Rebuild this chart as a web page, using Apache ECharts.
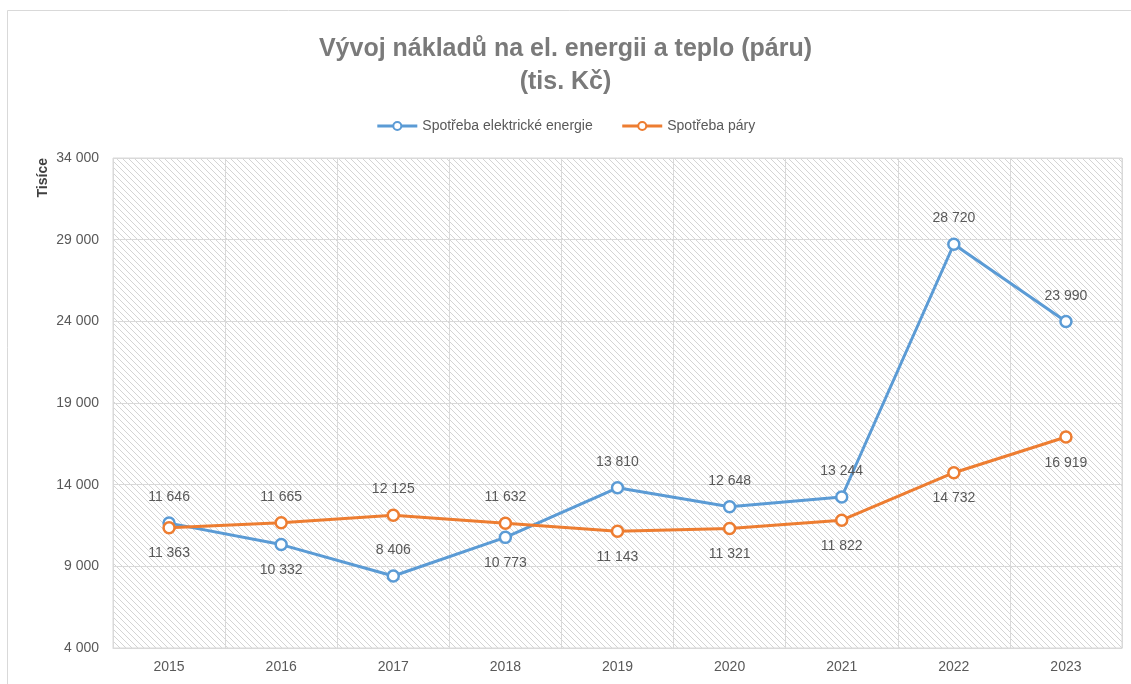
<!DOCTYPE html>
<html>
<head>
<meta charset="utf-8">
<script src="https://cdn.jsdelivr.net/npm/echarts@6/dist/echarts.min.js"></script>
<style>
  html, body { margin: 0; padding: 0; background: #fff; }
  #chart { width: 1131px; height: 684px; }
</style>
</head>
<body>
<div id="chart"></div>
<script>
// data
var years = ['2015', '2016', '2017', '2018', '2019', '2020', '2021', '2022', '2023']
var elektrina = [11646, 10332, 8406, 10773, 13810, 12648, 13244, 28720, 23990]
var para = [11363, 11665, 12125, 11632, 11143, 11321, 11822, 14732, 16919]
// label above (true) or below (false)
var elektrinaNahoru = [true, false, true, false, true, true, true, true, true]
var paraNahoru = [false, true, true, true, false, false, false, false, false]

var FONT = '"Liberation Sans Narrow", "Liberation Sans", Arial, sans-serif'

function fmt(v) {
  return String(v).replace(/\B(?=(\d{3})+(?!\d))/g, ' ')
}

// hatch pattern for plot background
function hatch() {
  var c = document.createElement('canvas')
  c.width = 6
  c.height = 6
  var ctx = c.getContext('2d')
  ctx.fillStyle = '#ffffff'
  ctx.fillRect(0, 0, 6, 6)
  ctx.strokeStyle = '#d4d4d4'
  ctx.lineWidth = 1
  ctx.beginPath()
  ctx.moveTo(-1, -1); ctx.lineTo(7, 7)
  ctx.moveTo(-4, 2); ctx.lineTo(4, 10)
  ctx.moveTo(2, -4); ctx.lineTo(10, 4)
  ctx.stroke()
  return c
}

function withLabels(values, nahoru) {
  return values.map(function(v, i) {
    return {
      value: v,
      label: { position: nahoru[i] ? 'top' : 'bottom', distance: nahoru[i] ? 12 : 12 }
    }
  })
}

var chart = echarts.init(document.getElementById('chart'))
chart.setOption({
  backgroundColor: '#fff',
  animation: false,
  textStyle: { fontFamily: FONT },
  title: {
    text: 'Vývoj nákladů na el. energii a teplo (páru)\n(tis. Kč)',
    left: 'center',
    top: 28,
    textStyle: {
      fontFamily: FONT,
      fontSize: 25,
      fontWeight: 'bold',
      color: '#7a7a7a',
      lineHeight: 33
    }
  },
  legend: {
    top: 114,
    left: 'center',
    itemGap: 28,
    itemWidth: 40,
    itemHeight: 10,
    lineStyle: { width: 3 },
    textStyle: { fontFamily: FONT, fontSize: 14, color: '#595959' },
    data: ['Spotřeba elektrické energie', 'Spotřeba páry']
  },
  graphic: [
    {
      type: 'text',
      left: 36,
      top: 158,
      rotation: Math.PI / 2,
      style: { text: 'Tisíce', font: 'bold 14px ' + FONT, fill: '#404040' }
    },
    {
      type: 'rect',
      shape: { x: 7.5, y: 10.5, width: 1200, height: 800 },
      style: { fill: 'none', stroke: '#d9d9d9', lineWidth: 1 },
      silent: true
    }
  ],
  grid: {
    left: 113,
    right: 9,
    top: 158,
    bottom: 36,
    show: true,
    borderWidth: 1,
    borderColor: '#d9d9d9',
    backgroundColor: { image: hatch(), repeat: 'repeat' }
  },
  xAxis: {
    type: 'category',
    data: years,
    boundaryGap: true,
    axisLine: { show: true, lineStyle: { color: '#d9d9d9' } },
    axisTick: { show: false },
    axisLabel: { color: '#595959', fontSize: 14, margin: 12, fontFamily: FONT },
    splitLine: { show: true, lineStyle: { color: '#d9d9d9', width: 1 } }
  },
  yAxis: {
    type: 'value',
    min: 4000,
    max: 34000,
    interval: 5000,
    axisLine: { show: false },
    axisTick: { show: false },
    axisLabel: { color: '#595959', fontSize: 14, margin: 14, fontFamily: FONT, formatter: fmt },
    splitLine: { lineStyle: { color: '#d9d9d9', width: 1 } }
  },
  series: [
    {
      name: 'Spotřeba elektrické energie',
      type: 'line',
      data: withLabels(elektrina, elektrinaNahoru),
      symbol: 'circle',
      symbolSize: 11,
      itemStyle: { color: '#fff', borderColor: '#5b9bd5', borderWidth: 2.5 },
      lineStyle: { color: '#5b9bd5', width: 3 },
      label: {
        show: true,
        color: '#595959',
        fontSize: 14,
        fontFamily: FONT,
        formatter: function(p) { return fmt(p.value) }
      },
      z: 3
    },
    {
      name: 'Spotřeba páry',
      type: 'line',
      data: withLabels(para, paraNahoru),
      symbol: 'circle',
      symbolSize: 11,
      itemStyle: { color: '#fff', borderColor: '#ed7d31', borderWidth: 2.5 },
      lineStyle: { color: '#ed7d31', width: 3 },
      label: {
        show: true,
        color: '#595959',
        fontSize: 14,
        fontFamily: FONT,
        formatter: function(p) { return fmt(p.value) }
      },
      z: 4
    }
  ]
})
</script>
</body>
</html>
